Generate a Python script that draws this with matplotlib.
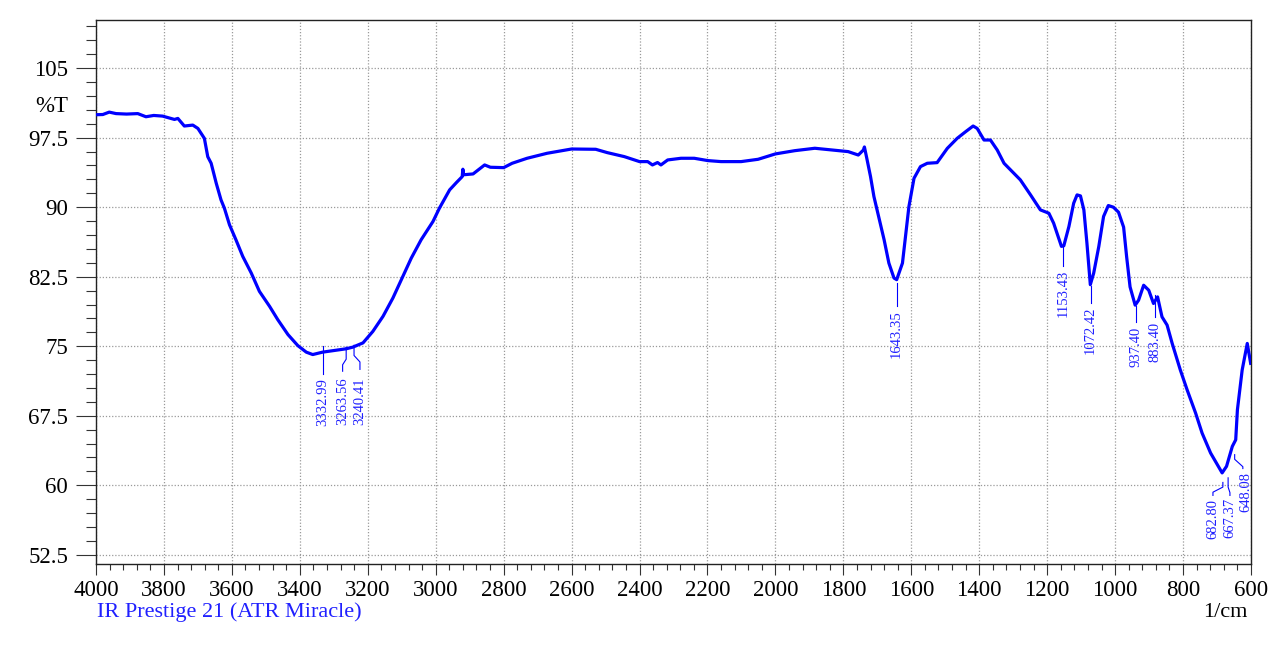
import matplotlib
matplotlib.use("Agg")
import matplotlib.pyplot as plt
from matplotlib.ticker import MultipleLocator, FormatStrFormatter

# IR spectrum (wavenumber 1/cm, %T)
wavenumber = [4000, 3980, 3961, 3941, 3910, 3877, 3853, 3830, 3804, 3769, 3759, 3740, 3715,
              3700, 3681, 3671, 3661, 3646, 3632, 3622, 3607, 3588, 3568, 3543, 3519,
              3489, 3465, 3435, 3406, 3381, 3362, 3333, 3293, 3264, 3244, 3214, 3185,
              3155, 3126, 3106, 3072, 3043, 3008, 2989, 2959, 2939, 2922, 2920, 2918,
              2890, 2856, 2839, 2800, 2775, 2731, 2672, 2600, 2529, 2495, 2445, 2400,
              2376, 2362, 2347, 2337, 2317, 2278, 2239, 2199, 2160, 2101, 2051, 2000,
              1943, 1884, 1835, 1786, 1756, 1741, 1738, 1731, 1720, 1710, 1695, 1680,
              1666, 1651, 1643, 1626, 1617, 1607, 1592, 1573, 1553, 1524, 1494, 1465,
              1440, 1418, 1406, 1386, 1367, 1347, 1327, 1279, 1249, 1220, 1195, 1181,
              1158, 1151, 1136, 1122, 1112, 1102, 1092, 1083, 1073, 1063, 1048, 1034,
              1020, 1005, 990, 975, 966, 956, 941, 931, 916, 901, 887, 875, 862, 847,
              832, 808, 788, 763, 744, 719, 699, 685, 672, 655, 645, 640, 626, 611, 601]
transmittance = [99.98, 100.0, 100.26, 100.1, 100.05, 100.1, 99.76, 99.9, 99.83, 99.47, 99.58, 98.76, 98.86,
                 98.5, 97.43, 95.45, 94.74, 92.58, 90.79, 89.89, 88.1, 86.48, 84.69, 82.9, 80.92,
                 79.3, 77.87, 76.26, 75.07, 74.36, 74.1, 74.36, 74.57, 74.72, 74.9, 75.36, 76.6,
                 78.23, 80.2, 81.8, 84.5, 86.48, 88.46, 89.9, 91.87, 92.66, 93.3, 94.1, 93.5,
                 93.59, 94.56, 94.31, 94.27, 94.74, 95.28, 95.82, 96.28, 96.25, 95.89, 95.46, 94.92,
                 94.92, 94.56, 94.82, 94.56, 95.1, 95.28, 95.28, 95.03, 94.92, 94.92, 95.17, 95.75,
                 96.1, 96.36, 96.18, 96.0, 95.63, 96.17, 96.5, 95.28, 93.3, 91.15, 88.82, 86.48,
                 83.97, 82.36, 82.18, 83.97, 86.84, 90.07, 93.12, 94.38, 94.74, 94.81, 96.35, 97.43,
                 98.15, 98.76, 98.5, 97.25, 97.25, 96.17, 94.74, 92.95, 91.33, 89.71, 89.35, 88.28,
                 85.77, 85.84, 87.92, 90.43, 91.33, 91.22, 89.71, 86.13, 81.64, 82.9, 85.77, 89.0,
                 90.18, 90.0, 89.46, 87.85, 84.62, 81.4, 79.43, 79.96, 81.58, 81.04, 79.61, 80.32, 78.17, 77.28,
                 75.3, 72.43, 70.29, 67.78, 65.63, 63.48, 62.22, 61.33, 62.04, 64.19, 64.9, 68.14, 72.43, 75.3, 73.15]

# peak labels: (text, leader polyline xs, leader polyline ys, text x, text top y)
peak_labels = ["3332.99", "3263.56", "3240.41", "1643.35", "1153.43",
               "1072.42", "937.40", "883.40", "682.80", "667.37", "648.08"]
leader_x = [[3332.99, 3332.99], [3263.56, 3263.56, 3274, 3274], [3240.41, 3240.41, 3223, 3223],
            [1643.35, 1643.35], [1153.43, 1153.43], [1072.42, 1072.42], [937.4, 937.4],
            [883.4, 883.4], [682.8, 682.8, 712, 712], [667.37, 667.37, 662, 662],
            [648.08, 648.08, 624, 624]]
leader_y = [[75.0, 72.0], [74.9, 73.6, 73.0, 72.3], [75.1, 74.0, 73.3, 72.5],
            [81.85, 79.3], [85.8, 83.7], [81.5, 79.7], [79.3, 77.6],
            [80.5, 78.2], [60.3, 59.8, 59.25, 58.9], [60.8, 59.8, 59.2, 58.9],
            [63.3, 62.8, 62.0, 61.8]]
text_x = [3332.99, 3274, 3223, 1643.35, 1153.43, 1072.42, 937.4, 883.4, 712, 662, 616]
text_top = [71.6, 71.6, 71.6, 78.9, 83.3, 79.3, 77.1, 77.6, 58.5, 58.6, 61.4]

plt.rcParams['font.family'] = ['Liberation Serif', 'DejaVu Serif']

fig = plt.figure(figsize=(12.85, 6.45), dpi=100)
ax = fig.add_axes([96/1285, 1-564/645, (1251-96)/1285, (564-20)/645])

ax.plot(wavenumber, transmittance, color='#0000ff', linewidth=2.3, zorder=3)

for lbl, lx, ly, tx, ty in zip(peak_labels, leader_x, leader_y, text_x, text_top):
    ax.plot(lx, ly, color='#0000ff', linewidth=0.8, zorder=3)
    ax.text(tx, ty, lbl, rotation=90, ha='center', va='top', fontsize=10.5,
            color='#2020ff', clip_on=False)

ax.set_xlim(4000, 600)
ax.set_ylim(51.5, 110.2)

ax.xaxis.set_major_locator(MultipleLocator(200))
ax.xaxis.set_minor_locator(MultipleLocator(40))
ax.yaxis.set_major_locator(MultipleLocator(7.5))
ax.yaxis.set_minor_locator(MultipleLocator(1.5))
ax.yaxis.set_major_formatter(FormatStrFormatter('%g'))

ax.tick_params(axis='y', which='major', length=14.4, width=0.8, pad=5.8, labelsize=16.5, color='#333333')
ax.tick_params(axis='y', which='minor', length=7, width=0.8, color='#333333')
ax.tick_params(axis='x', which='major', length=8.1, width=0.8, pad=3.6, labelsize=16.5, color='#333333')
ax.tick_params(axis='x', which='minor', length=4.5, width=0.8, color='#333333')

# Grid lines
ax.grid(True, which='major', linestyle=(0, (1, 1.5)), linewidth=0.9, color='#9a9a9a')

for sp in ax.spines.values():
    sp.set_linewidth(1.0)
    sp.set_color('#222222')

fig.text(68/1285, 1-112/645, "%T", ha='right', va='baseline', fontsize=16.5)
fig.text(1247/1285, 1-617/645, "1/cm", ha='right', va='baseline', fontsize=16)
fig.text(97/1285, 1-617/645, "IR Prestige 21 (ATR Miracle)", ha='left', va='baseline',
         fontsize=16, color='#2020ff')

plt.savefig("out.png", dpi=100)
